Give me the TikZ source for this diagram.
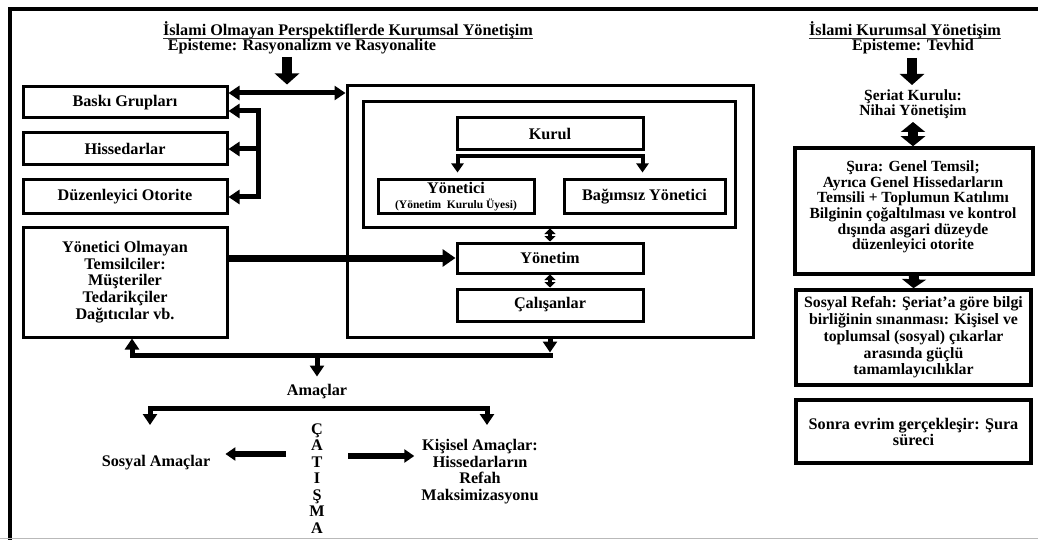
\documentclass[tikz,border=0pt]{standalone}
\usepackage{fontspec}
\setmainfont{Liberation Serif}
\usetikzlibrary{arrows.meta,calc}
\begin{document}
\lineskiplimit=-30pt
\begin{tikzpicture}[x=1pt,y=-1pt,
  txt/.style={font=\bfseries\fontsize{16.2}{16.5}\selectfont, align=center, inner sep=0pt},
  box/.style={draw, line width=3pt, txt, inner sep=0pt},
  rbox/.style={draw, line width=3.5pt, txt, inner sep=0pt},
  uline/.style={line width=1.1pt, black!80},
  blk/.style={line width=10pt, -{Triangle[width=24pt,length=11pt]}},
  blkd/.style={line width=10pt, {Triangle[width=24pt,length=10pt]}-{Triangle[width=24pt,length=10pt]}},
  thk/.style={line width=5pt, -{Triangle[width=14pt,length=11pt]}},
  thkd/.style={line width=5pt, {Triangle[width=14pt,length=11pt]}-{Triangle[width=14pt,length=11pt]}},
  medd/.style={line width=4pt, {Triangle[width=12pt,length=9pt]}-{Triangle[width=12pt,length=9pt]}},
  smalld/.style={line width=4pt, {Triangle[width=11pt,length=5.5pt]}-{Triangle[width=11pt,length=5.5pt]}},
  fatarr/.style={line width=7pt, -{Triangle[width=17pt,length=13pt]}}
]
\useasboundingbox (0,0) rectangle (1038,540);
% frame
\draw[line width=4pt] (9.5,540) -- (9.5,9.5) -- (1038,9.5);
\draw[gray!55, line width=1.5pt] (0,538.5) -- (1038,538.5);

% left titles
\node[txt, anchor=base] (t1) at (348,36) {İslami Olmayan Perspektiflerde Kurumsal Yönetişim};
\draw[uline] ([yshift=-2.5pt]t1.base west) -- ([yshift=-2.5pt]t1.base east);
\node[txt, anchor=base] (e1) at (302,51) {Episteme: Rasyonalizm ve Rasyonalite};

% left column boxes
\node[box, minimum width=204, minimum height=31] (baski) at (125,102.5) {Baskı Grupları};
\node[box, minimum width=204, minimum height=32] (hisse) at (125,149) {Hissedarlar};
\node[box, minimum width=204, minimum height=33] (duz) at (125,196.5) {Düzenleyici Otorite};
\node[box, minimum width=204, minimum height=110, font=\bfseries\fontsize{16.2}{16.7}\selectfont] (yom) at (125,282)
  {Yönetici Olmayan\\Temsilciler:\\Müşteriler\\Tedarikçiler\\Dağıtıcılar vb.};

% central boxes
\node[draw, line width=3pt, minimum width=406, minimum height=251] (big) at (550,211.5) {};
\node[draw, line width=3pt, minimum width=372, minimum height=125] (inner) at (549,164.5) {};
\node[box, minimum width=186, minimum height=32] (kurul) at (550,134) {Kurul};
\node[box, minimum width=156, minimum height=33, font=\bfseries\fontsize{16.2}{15.5}\selectfont] (yonetici) at (456,196.5)
  {Yönetici\\{\fontsize{11.5}{12}\selectfont (Yönetim\ \ Kurulu Üyesi)}};
\node[box, minimum width=161, minimum height=33] (bag) at (644.5,196.5) {Bağımsız Yönetici};
\node[box, minimum width=186, minimum height=30] (yonetim) at (550,258) {Yönetim};
\node[box, minimum width=186, minimum height=32] (calisan) at (550,305) {Çalışanlar};

% bottom
\node[txt] (amac) at (317,392) {Amaçlar};
\node[txt] (sosam) at (156,463) {Sosyal Amaçlar};
\node[txt] (cat) at (317,478.5) {Ç\\A\\T\\I\\Ş\\M\\A};
\node[txt] (kis) at (480,471.5) {Kişisel Amaçlar:\\Hissedarların\\Refah\\Maksimizasyonu};

% right column
\node[txt, anchor=base] (t2) at (905,36) {İslami Kurumsal Yönetişim};
\draw[uline] ([yshift=-2.5pt]t2.base west) -- ([yshift=-2.5pt]t2.base east);
\node[txt, anchor=base] (e2) at (913,51) {Episteme: Tevhid};
\node[txt, font=\bfseries\fontsize{15.5}{15}\selectfont] (seriat) at (913,104) {Şeriat Kurulu:\\Nihai Yönetişim};
\node[draw, line width=3.5pt, minimum width=238, minimum height=126] (sura) at (914,211) {};
\node[txt, font=\bfseries\fontsize{15.5}{15.6}\selectfont] (suratxt) at (913,207)
  {Şura: Genel Temsil;\\Ayrıca Genel Hissedarların\\Temsili + Toplumun Katılımı\\Bilginin çoğaltılması ve kontrol\\dışında asgari düzeyde\\düzenleyici otorite};
\node[rbox, minimum width=235, minimum height=95, font=\bfseries\fontsize{15.8}{16.7}\selectfont] (sosyal) at (913.5,337.5)
  {Sosyal Refah: Şeriat'a göre bilgi\\birliğinin sınanması: Kişisel ve\\toplumsal (sosyal) çıkarlar\\arasında güçlü\\tamamlayıcılıklar};
\node[rbox, minimum width=235, minimum height=63, font=\bfseries\fontsize{16.2}{16}\selectfont] (sonra) at (913.5,431.5)
  {Sonra evrim gerçekleşir: Şura\\süreci};

% connectors left
\coordinate (a1) at (287,57);
\draw[blk] (a1) -- (a1 |- big.north);
\draw[thkd] (baski.east |- 0,93) -- (big.west |- 0,93);
\draw[thkd] (baski.east |- 0,111) -- (258,111) -- (258,197) -- (duz.east |- 0,197);
\draw[thk] (258,149) -- (hisse.east);
\draw[fatarr] (yom.east |- yonetim) -- (yonetim.west);

% kurul split
\coordinate (kl) at ($(kurul.south west)+(2,5)$);
\coordinate (kr) at ($(kurul.south east)+(-2,5)$);
\draw[medd, shorten <=6pt, shorten >=6pt] (kl |- yonetici.north) -- (kl) -- (kr) -- (kr |- bag.north);
\draw[smalld] (yonetim.north |- inner.south) -- (yonetim.north);
\draw[smalld] (yonetim.south) -- (calisan.north);

% bottom connectors
\coordinate (bj) at (552.5,355);
\coordinate (bl) at (132,355);
\coordinate (bm) at (317,355);
\draw[thk] (big.south) -- (550,352.5);
\draw[thk] (bj) -- (bl) -- (bl |- yom.south);
\draw[thk, shorten >=8pt] (bm) -- (amac.north);
\coordinate (al) at (150,408);
\coordinate (ar) at (487,408);
\draw[thkd] ($(al)+(0,17)$) -- (al) -- (ar) -- ($(ar)+(0,17)$);
\coordinate (c1) at (286,454);
\coordinate (c2) at (348,456);
\draw[line width=5.5pt, -{Triangle[width=13pt,length=10pt]}, shorten >=15pt] (c1) -- (sosam.east |- c1);
\draw[line width=5.5pt, -{Triangle[width=13pt,length=10pt]}, shorten >=7pt] (c2) -- (kis.west |- c2);

% right connectors
\coordinate (r1) at (912,58);
\coordinate (r2) at (913,122);
\draw[blk] (r1) -- (912,85);
\draw[blkd] (r2) -- (r2 |- sura.north);
\draw[line width=10pt, -{Triangle[width=24pt,length=9pt]}] (sura.south) -- (sosyal.north);
\end{tikzpicture}
\end{document}
